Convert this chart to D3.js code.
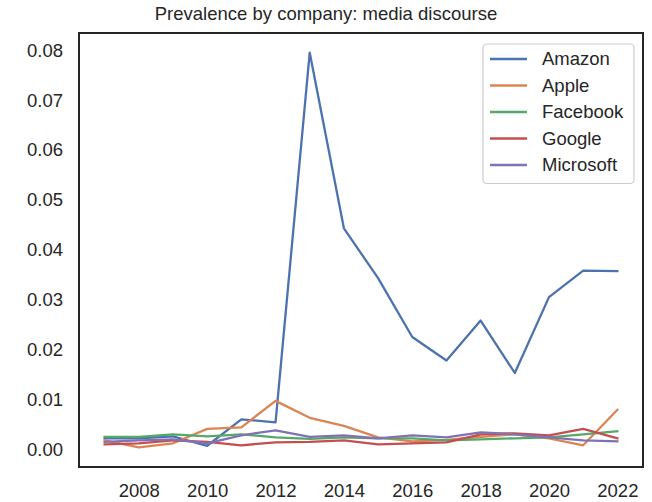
<!DOCTYPE html>
<html>
<head>
<meta charset="utf-8">
<script src="https://cdn.jsdelivr.net/npm/d3@7"></script>
<style>
  html, body { margin: 0; padding: 0; background: #ffffff; }
  svg { display: block; }
  text { font-family: "Liberation Sans", Arial, sans-serif; fill: #262626; }
</style>
</head>
<body>
<svg id="chart" width="652" height="502"></svg>
<script>
const years = [2007, 2008, 2009, 2010, 2011, 2012, 2013, 2014, 2015, 2016, 2017, 2018, 2019, 2020, 2021, 2022];
const companies = ["Amazon", "Apple", "Facebook", "Google", "Microsoft"];
const colors = ["#4C72B0", "#DD8452", "#55A868", "#C44E52", "#8172B3"];
const amazon    = [0.0022, 0.0022, 0.0026, 0.0007, 0.0060, 0.0054, 0.0795, 0.0443, 0.0343, 0.0225, 0.0178, 0.0258, 0.0153, 0.0305, 0.0358, 0.0357];
const apple     = [0.0018, 0.0004, 0.0012, 0.0041, 0.0044, 0.0097, 0.0063, 0.0047, 0.0024, 0.0016, 0.0019, 0.0025, 0.0030, 0.0022, 0.0008, 0.0079];
const facebook  = [0.0025, 0.0025, 0.0030, 0.0026, 0.0030, 0.0024, 0.0021, 0.0024, 0.0022, 0.0022, 0.0018, 0.0020, 0.0022, 0.0024, 0.0030, 0.0036];
const google    = [0.0010, 0.0012, 0.0018, 0.0015, 0.0008, 0.0014, 0.0015, 0.0018, 0.0010, 0.0012, 0.0014, 0.0030, 0.0032, 0.0028, 0.0041, 0.0022];
const microsoft = [0.0015, 0.0018, 0.0020, 0.0012, 0.0028, 0.0038, 0.0025, 0.0028, 0.0022, 0.0028, 0.0024, 0.0034, 0.0030, 0.0024, 0.0018, 0.0016];
const xTicks = [2008, 2010, 2012, 2014, 2016, 2018, 2020, 2022];
const yTicks = [0.00, 0.01, 0.02, 0.03, 0.04, 0.05, 0.06, 0.07, 0.08];
const title = "Prevalence by company: media discourse";

const seriesValues = [amazon, apple, facebook, google, microsoft];
const series = companies.map((name, i) => ({
  name, color: colors[i],
  points: years.map((y, j) => ({ year: y, value: seriesValues[i][j] }))
}));

const W = 652;
const svg = d3.select("#chart");
const pL = 79, pR = 643, pT = 33, pB = 467;

// matplotlib-like 5% margins
const xExt = d3.extent(years);
const xPad = (xExt[1] - xExt[0]) * 0.05;
const allVals = seriesValues.flat();
const yExt = d3.extent(allVals);
const yPad = (yExt[1] - yExt[0]) * 0.05;

const x = d3.scaleLinear().domain([xExt[0] - xPad, xExt[1] + xPad]).range([pL, pR]);
const y = d3.scaleLinear().domain([yExt[0] - yPad, yExt[1] + yPad]).range([pB, pT]);

// axes (no tick marks, seaborn white style)
const xAxis = d3.axisBottom(x).tickValues(xTicks).tickFormat(d3.format("d")).tickSize(0).tickPadding(12);
const yAxis = d3.axisLeft(y).tickValues(yTicks).tickFormat(d3.format(".2f")).tickSize(0).tickPadding(16);

const gx = svg.append("g").attr("transform", `translate(0,${pB})`).call(xAxis);
gx.select(".domain").remove();
gx.selectAll("text").style("font-size", "18.5px").attr("fill", "#262626").attr("dy", "0.95em");

const gy = svg.append("g").attr("transform", `translate(${pL},0)`).call(yAxis);
gy.select(".domain").remove();
gy.selectAll("text").style("font-size", "18.5px").attr("fill", "#262626");

// clip
svg.append("clipPath").attr("id", "clip").append("rect")
  .attr("x", pL).attr("y", pT).attr("width", pR - pL).attr("height", pB - pT);

const line = d3.line().x(d => x(d.year)).y(d => y(d.value));
svg.append("g").attr("clip-path", "url(#clip)")
  .selectAll("path").data(series).join("path")
  .attr("d", d => line(d.points))
  .attr("fill", "none")
  .attr("stroke", d => d.color)
  .attr("stroke-width", 2.3)
  .attr("stroke-linejoin", "round")
  .attr("stroke-linecap", "square");

// frame
svg.append("rect")
  .attr("x", pL).attr("y", pT).attr("width", pR - pL).attr("height", pB - pT)
  .attr("fill", "none").attr("stroke", "#262626").attr("stroke-width", 2);

// title (centred on the figure)
svg.append("text")
  .attr("x", W / 2).attr("y", 20)
  .attr("text-anchor", "middle")
  .style("font-size", "18.5px")
  .text(title);

// legend
const fs = 18.5;
const legW = 151, rowH = 26.5;
const legX = pR - 9 - legW, legY = pT + 11;
const leg = svg.append("g");
leg.append("rect")
  .attr("x", legX).attr("y", legY).attr("width", legW).attr("height", rowH * companies.length + 7)
  .attr("rx", 4).attr("fill", "#ffffff").attr("fill-opacity", 0.8)
  .attr("stroke", "#cccccc").attr("stroke-width", 1.2);
series.forEach((s, i) => {
  const cy = legY + 15 + i * rowH;
  leg.append("line")
    .attr("x1", legX + 7).attr("x2", legX + 44)
    .attr("y1", cy).attr("y2", cy)
    .attr("stroke", s.color).attr("stroke-width", 2.3);
  leg.append("text")
    .attr("x", legX + 59).attr("y", cy).attr("dy", "0.35em")
    .style("font-size", fs + "px")
    .text(s.name);
});
</script>
</body>
</html>
